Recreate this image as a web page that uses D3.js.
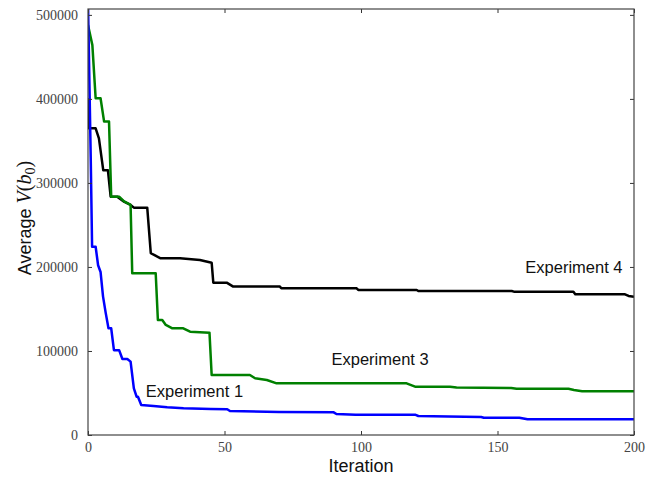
<!DOCTYPE html>
<html>
<head>
<meta charset="utf-8">
<script src="https://cdn.jsdelivr.net/npm/d3@7"></script>
<style>
  body { margin: 0; background: #fff; }
  .tick text { font-family: "Liberation Serif", serif; font-size: 14px; fill: #444; }
</style>
</head>
<body>
<div id="chart"></div>
<script>
// iteration / value pairs
var exp1Iter = [0, 1, 1.5, 2.8, 3.7, 4.6, 5.5, 6.5, 7.5, 8.5, 9.5, 11.4, 12.6, 14.4, 15.6, 16.8, 17.8, 18.3, 19.5, 24, 29, 35, 45, 51, 52, 70, 90, 91, 98, 120, 121, 132, 144, 145, 158, 161, 200];
var exp1Val = [515000, 330000, 224000, 224000, 202000, 194000, 165000, 145000, 127000, 127000, 101000, 101000, 90500, 90500, 87300, 55600, 45600, 45600, 35700, 34500, 33000, 31800, 31000, 30600, 28500, 27500, 27000, 25000, 24200, 24000, 22600, 22000, 21500, 20600, 20600, 18700, 18700];

var exp3Iter = [0, 1.6, 2.8, 4.6, 5.9, 7.7, 8.5, 11.4, 13.2, 15.6, 16.2, 24.8, 25.6, 27.2, 28.5, 30.9, 34.9, 37.4, 44.5, 45.3, 59.3, 61.2, 65.5, 69.1, 116.7, 119.8, 132.6, 135, 155, 157, 176, 178, 181, 200];
var exp3Val = [488000, 464000, 400800, 400800, 373000, 373000, 283700, 283700, 278000, 273800, 192500, 192500, 136900, 136900, 131000, 127000, 127000, 123000, 121800, 71400, 71400, 67500, 65500, 61500, 61500, 57500, 57500, 56500, 56000, 55000, 55000, 53600, 52000, 52000];

var exp4Iter = [0, 0.4, 2.8, 4, 5.6, 7.3, 8.3, 10.7, 13.2, 15.6, 16.8, 21.7, 23, 24.2, 26.6, 33.7, 41, 45.3, 45.9, 50.8, 53.2, 70.3, 70.8, 98.4, 99, 120.4, 121, 155.2, 156, 177.8, 178.5, 196.7, 198, 200];
var exp4Val = [400800, 365000, 365000, 353000, 315000, 315000, 283700, 283700, 277700, 273800, 270600, 270600, 216300, 214300, 210300, 210300, 208300, 205000, 181300, 181300, 176600, 176600, 174600, 174600, 172600, 172600, 171400, 171400, 170600, 170600, 167500, 167500, 165500, 164600];

var seriesNames = ["Experiment 1", "Experiment 3", "Experiment 4"];
var seriesColors = ["#0000ff", "#008000", "#000000"];
// label anchor points (data coords)
var labelIter = [39, 107, 178];
var labelVal = [52000, 90000, 200000];

var xTicks = [0, 50, 100, 150, 200];
var yTicks = [0, 100000, 200000, 300000, 400000, 500000];

var svgWidth = 650, svgHeight = 479;
var margin = { top: 9, right: 16, bottom: 44, left: 88 };
var width = svgWidth - margin.left - margin.right;
var height = svgHeight - margin.top - margin.bottom;

var svg = d3.select("#chart").append("svg")
  .attr("width", svgWidth)
  .attr("height", svgHeight);

var chartGroup = svg.append("g")
  .attr("transform", `translate(${margin.left}, ${margin.top})`);

var xScale = d3.scaleLinear().domain([0, 200]).range([0, width]);
var yScale = d3.scaleLinear().domain([0, 507000]).range([height, 0]);

svg.append("clipPath").attr("id", "plotclip")
  .append("rect").attr("width", width).attr("height", height);

var series = [
  { iter: exp1Iter, val: exp1Val },
  { iter: exp3Iter, val: exp3Val },
  { iter: exp4Iter, val: exp4Val }
];

var line = d3.line()
  .x(d => xScale(d[0]))
  .y(d => yScale(d[1]));

// draw black first, then green, then blue on top
[2, 1, 0].forEach(function(i) {
  var pts = series[i].iter.map((x, j) => [x, series[i].val[j]]);
  chartGroup.append("path")
    .datum(pts)
    .attr("clip-path", "url(#plotclip)")
    .attr("fill", "none")
    .attr("stroke", seriesColors[i])
    .attr("stroke-width", 2.5)
    .attr("stroke-linejoin", "round")
    .attr("d", line);
});

// axes, ticks pointing inward on all four sides
var xAxis = d3.axisBottom(xScale).tickValues(xTicks).tickSizeInner(-4).tickSizeOuter(0).tickPadding(7);
var xTop = d3.axisTop(xScale).tickValues(xTicks).tickSizeInner(-4).tickSizeOuter(0).tickFormat("");
var yAxis = d3.axisLeft(yScale).tickValues(yTicks).tickSizeInner(-4).tickSizeOuter(0).tickPadding(10).tickFormat(d3.format("d"));
var yRight = d3.axisRight(yScale).tickValues(yTicks).tickSizeInner(-4).tickSizeOuter(0).tickFormat("");

chartGroup.append("g").attr("transform", `translate(0, ${height})`).call(xAxis);
chartGroup.append("g").call(xTop);
chartGroup.append("g").call(yAxis);
chartGroup.append("g").attr("transform", `translate(${width}, 0)`).call(yRight);

chartGroup.selectAll(".domain").remove();
chartGroup.selectAll(".tick line").attr("stroke", "#333");

chartGroup.append("rect")
  .attr("width", width)
  .attr("height", height)
  .attr("fill", "none")
  .attr("stroke", "#444")
  .attr("stroke-width", 1.2);

// series labels
chartGroup.selectAll(".serieslabel")
  .data(seriesNames)
  .enter()
  .append("text")
  .attr("x", (d, i) => xScale(labelIter[i]))
  .attr("y", (d, i) => yScale(labelVal[i]))
  .attr("dy", "0.35em")
  .attr("text-anchor", "middle")
  .attr("font-family", "Liberation Sans, Arial, sans-serif")
  .attr("font-size", "16.5px")
  .attr("fill", "#111")
  .text(d => d);

// axis titles
svg.append("text")
  .attr("x", margin.left + width / 2)
  .attr("y", 472)
  .attr("text-anchor", "middle")
  .attr("font-family", "Liberation Sans, Arial, sans-serif")
  .attr("font-size", "18px")
  .attr("fill", "#111")
  .text("Iteration");

var yLabel = svg.append("text")
  .attr("transform", "translate(31, 218) rotate(-90)")
  .attr("text-anchor", "middle")
  .attr("font-family", "Liberation Sans, Arial, sans-serif")
  .attr("font-size", "18px")
  .attr("fill", "#111");
yLabel.append("tspan").text("Average ");
yLabel.append("tspan").attr("font-family", "Liberation Serif, serif").attr("font-size", "20px").attr("font-style", "italic").text("V");
yLabel.append("tspan").attr("font-family", "Liberation Serif, serif").attr("font-size", "20px").text("(");
yLabel.append("tspan").attr("font-family", "Liberation Serif, serif").attr("font-size", "20px").attr("font-style", "italic").text("b");
yLabel.append("tspan").attr("font-family", "Liberation Serif, serif").attr("font-size", "14px").attr("dy", "4").text("0");
yLabel.append("tspan").attr("font-family", "Liberation Serif, serif").attr("font-size", "20px").attr("dy", "-4").text(")");
</script>
</body>
</html>
